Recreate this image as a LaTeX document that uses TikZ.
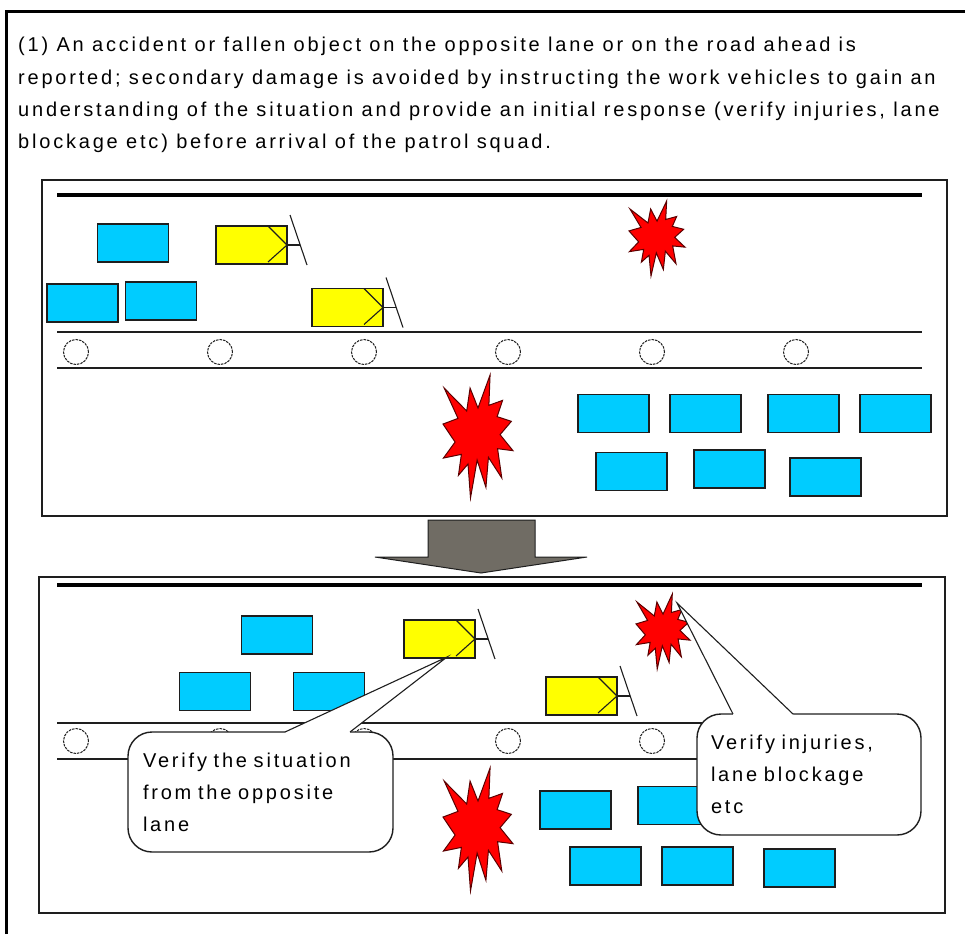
\documentclass[tikz,border=0pt]{standalone}
\usepackage{fontspec}
\setmainfont{Liberation Sans}[LetterSpace=14]
\definecolor{carblue}{RGB}{0,204,255}
\definecolor{caryellow}{RGB}{255,255,0}
\definecolor{burstred}{RGB}{255,0,0}
\definecolor{burstedge}{RGB}{90,0,0}
\definecolor{arrowfill}{RGB}{112,108,100}
\definecolor{ink}{RGB}{30,30,30}

% Explosion outline in a 100 x 100 box (y downwards)
\newcommand\burstshape[4]{%
  \begin{scope}[shift={(#1,#2)}, xscale=#3/100, yscale=#4/100]
    \filldraw[burst] (50,26.85) -- (67.23,0) -- (65.53,24.65) -- (85.09,20.63)
      -- (77.32,33.87) -- (97.67,37.67) -- (81.51,48.50) -- (100,61.53)
      -- (77.95,59.92) -- (84.00,83.77) -- (64.91,66.93) -- (61.33,91.38)
      -- (48.76,69.14) -- (39.28,100) -- (35.72,72.35) -- (22.05,81.56)
      -- (26.24,64.52) -- (0.63,67.53) -- (17.23,54.51) -- (0,39.88)
      -- (21.42,35.26) -- (1.71,10.63) -- (33.85,29.26) -- (38.67,10.63) -- cycle;
  \end{scope}}

% Cab marks and sign post of a work vehicle
\newcommand\cabdeco[1]{%
  \draw[deco] ([shift={(-19pt,19pt)}]#1.east) -- (#1.east) -- ([shift={(-19pt,-17pt)}]#1.east);
  \draw[deco] (#1.east) -- ([xshift=13pt]#1.east);
  \draw[deco] ([shift={(3pt,30pt)}]#1.east) -- ([shift={(20pt,-20pt)}]#1.east);}

\begin{document}
\begin{tikzpicture}[x=1pt,y=-1pt,
  panel/.style={draw=ink, line width=1.6pt},
  car/.style={draw=ink, line width=1.5pt, minimum width=71pt, minimum height=38pt,
    inner sep=0pt, outer sep=0pt},
  bluecar/.style={car, fill=carblue},
  yellowcar/.style={car, fill=caryellow},
  deco/.style={draw=ink, line width=1.1pt},
  roadline/.style={draw=ink, line width=1.5pt},
  kerb/.style={draw=black, line width=3.5pt},
  wheel/.style={circle, draw=ink, line width=1pt, dash pattern=on 2.5pt off 1pt,
    minimum size=25pt, inner sep=0pt},
  burst/.style={fill=burstred, draw=burstedge, line width=1pt, miter limit=20},
  headline/.style={anchor=base west, inner sep=0pt, font=\fontsize{20}{32}\selectfont},
  callout/.style={draw=ink, fill=white, line width=1.4pt, rounded corners=24pt,
    align=left, inner ysep=0pt, font=\fontsize{20}{32}\selectfont},
  pointer/.style={draw=ink, line width=1.1pt},
]
\useasboundingbox (0,0) rectangle (965,934);

% outer frame
\draw[line width=3pt] (6,934) -- (6,12) -- (965,12);

% heading
\node[headline] (h1) at (18,52) {(1) An accident or fallen object on the opposite lane or on the road ahead is};
\node[headline] (h2) at (18,84) {reported; secondary damage is avoided by instructing the work vehicles to gain an};
\node[headline] (h3) at (18,116) {understanding of the situation and provide an initial response (verify injuries, lane};
\node[headline] (h4) at (18,148) {blockage etc) before arrival of the patrol squad.};

% ---------- upper panel ----------
\draw[panel] (42,180) rectangle (947,516);
\draw[kerb] (57,195) -- (922,195);
\draw[roadline] (57,332) -- (922,332);
\draw[roadline] (57,368) -- (922,368);
\foreach \i/\x in {1/76,2/220,3/364,4/508,5/652,6/796}
  \node[wheel] (aw\i) at (\x,352) {};

\node[bluecar] (ab1) at (133,243) {};
\node[bluecar] (ab2) at (82.5,303) {};
\node[bluecar] (ab3) at (161,301) {};
\node[yellowcar] (ay1) at (251.5,245) {};
\node[yellowcar] (ay2) at (347.5,307.5) {};
\cabdeco{ay1}
\cabdeco{ay2}

\node[bluecar] (ab4) at (613.5,413.5) {};
\node[bluecar] (ab5) at (705.5,413.5) {};
\node[bluecar] (ab6) at (803.5,413.5) {};
\node[bluecar] (ab7) at (895.5,413.5) {};
\node[bluecar] (ab8) at (631.5,471.5) {};
\node[bluecar] (ab9) at (729.5,469) {};
\node[bluecar] (ab10) at (825.5,477) {};

\burstshape{629}{201}{56}{75}
\burstshape{443}{375}{70}{123}

% transition arrow
\filldraw[fill=arrowfill, draw=ink, line width=1pt]
  (428,520) -- (535,520) -- (535,557) -- (587,557) -- (481,573)
  -- (375,557) -- (428,557) -- cycle;

% ---------- lower panel ----------
\draw[panel] (39,577) rectangle (945,913);
\draw[kerb] (57,585) -- (922,585);
\draw[roadline] (57,723) -- (915,723);
\draw[roadline] (57,759) -- (915,759);
\foreach \i/\x in {1/76,2/220,3/364,4/508,5/652,6/796}
  \node[wheel] (bw\i) at (\x,741) {};

\node[bluecar] (bb1) at (277,635) {};
\node[bluecar] (bb2) at (215,691.5) {};
\node[bluecar] (bb3) at (329,691.5) {};
\node[yellowcar] (by1) at (439.5,639) {};
\node[yellowcar] (by2) at (581.5,696) {};
\cabdeco{by1}
\cabdeco{by2}

\node[bluecar] (bb4) at (575.5,810) {};
\node[bluecar] (bb5) at (673.5,805.5) {};
\node[bluecar] (bb6) at (605.5,866) {};
\node[bluecar] (bb7) at (697.5,866) {};
\node[bluecar] (bb8) at (799.5,868) {};

\burstshape{636}{594}{54}{75}
\burstshape{443}{768}{70}{123}

% callouts
\node[callout, minimum width=265pt, minimum height=120pt, text width=235pt,
  inner xsep=15pt] (c1) at (260.5,792)
  {Verify the situation\\from the opposite\\lane};
\coordinate (c1a) at (285,732);
\coordinate (c1b) at (350,732);
\coordinate (c1tip) at (447,657);
\fill[white] ([yshift=-2pt]c1a) -- (c1a) -- (c1tip) -- (c1b) -- ([yshift=-2pt]c1b) -- cycle;
\draw[pointer] (c1a) -- (c1tip) -- (c1b);

\node[callout, minimum width=224pt, minimum height=121pt, text width=196pt,
  inner xsep=14pt] (c2) at (809,774.5)
  {Verify injuries,\\lane blockage\\etc};
\coordinate (c2a) at (733,714);
\coordinate (c2b) at (793,714);
\coordinate (c2tip) at (677,603);
\fill[white] ([yshift=-2pt]c2a) -- (c2a) -- (c2tip) -- (c2b) -- ([yshift=-2pt]c2b) -- cycle;
\draw[pointer] (c2a) -- (c2tip) -- (c2b);
\end{tikzpicture}
\end{document}
